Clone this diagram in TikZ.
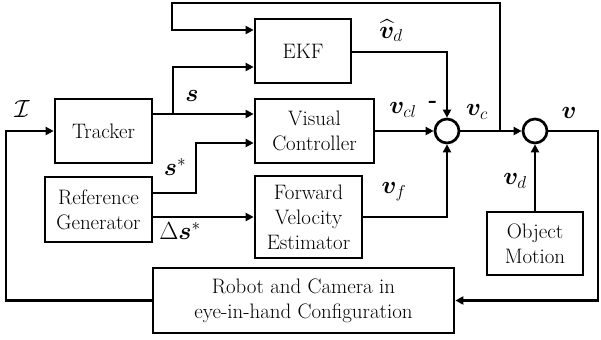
\documentclass[tikz,border=0pt]{standalone}
\usepackage{amsmath,bm}
\usetikzlibrary{arrows.meta}

\begin{document}
\begin{tikzpicture}[x=1bp, y=-1bp, font=\fontsize{21}{25}\selectfont,
    block/.style={draw, line width=2.7bp, align=center, inner sep=0pt},
    sumnode/.style={draw, circle, line width=2.7bp, minimum size=24bp, inner sep=0pt},
    conn/.style={line width=2.7bp},
    arr/.style={conn, -{Triangle[length=8bp, width=8bp]}},
    sig/.style={inner sep=0pt, font=\fontsize{23}{27}\selectfont}]
    \useasboundingbox (0,0) rectangle (601,339);

    % Blocks
    \node[block, minimum width=97bp, minimum height=64bp] (trk) at (103.5,131) {Tracker};
    \node[block, minimum width=96bp, minimum height=64bp] (ekf) at (303,51) {EKF};
    \node[block, minimum width=119bp, minimum height=64bp] (vc) at (314.5,131) {Visual\\Controller};
    \node[block, minimum width=107bp, minimum height=65bp] (ref) at (98.5,209.5) {Reference\\Generator};
    \node[block, minimum width=107bp, minimum height=82bp] (fve) at (308.5,217) {Forward\\Velocity\\Estimator};
    \node[block, minimum width=96bp, minimum height=63bp] (om) at (535,243.5) {Object\\Motion};
    \node[block, minimum width=301bp, minimum height=65bp] (rob) at (303.5,300.5) {Robot and Camera in\\eye-in-hand Configuration};

    % Summing junctions
    \node[sumnode] (sum1) at (447,131) {};
    \node[sumnode] (sum2) at (535,131) {};

    % Branch and corner points
    \coordinate (lft) at (6,300.5);
    \coordinate (sbr) at (173,114);
    \coordinate (vcbr) at (500,131);
    \coordinate (top) at (172,3);
    \coordinate (sst) at (196,143);
    \coordinate (rgt) at (598,131);

    % Connectors
    \draw[arr] (rob.west) -- (lft) |- (trk.west);
    \draw[arr] (trk.east |- sbr) -- (vc.west |- sbr);
    \draw[arr] (sbr) |- (ekf.west |- 0,67);
    \draw[arr] (vcbr) -- (vcbr |- top) -- (top) |- (ekf.west |- 0,30);
    \draw[arr] (ref.east |- 0,193) -| (sst) -- (vc.west |- sst);
    \draw[arr] (ref.east |- 0,217) -- (fve.west);
    \draw[arr] (ekf.east |- 0,52) -| (sum1.north);
    \draw[arr] (vc.east) -- (sum1.west);
    \draw[arr] (fve.east) -| (sum1.south);
    \draw[arr] (sum1.east) -- (sum2.west);
    \draw[arr] (om.north) -- (sum2.south);
    \draw[arr] (sum2.east) -- (rgt) |- (rob.east);

    % Signal labels
    \node[sig] (lI) at (22,109) {$\mathcal{I}$};
    \node[sig] (ls) at (192,96) {$\bm{s}$};
    \node[sig] (lsst) at (175,167) {$\bm{s}^{*}$};
    \node[sig] (ldst) at (180,231) {$\Delta\bm{s}^{*}$};
    \node[sig] (lvd) at (391,31) {$\widehat{\bm{v}}_{d}$};
    \node[sig] (lvcl) at (403,110) {$\bm{v}_{cl}$};
    \node[sig] (lmin) at (433,104) {\textbf{-}};
    \node[sig] (lvc) at (477,112) {$\bm{v}_{c}$};
    \node[sig] (lv) at (569,113) {$\bm{v}$};
    \node[sig] (lvf) at (394,192) {$\bm{v}_{f}$};
    \node[sig] (lvdo) at (515,181) {$\bm{v}_{d}$};
\end{tikzpicture}
\end{document}
